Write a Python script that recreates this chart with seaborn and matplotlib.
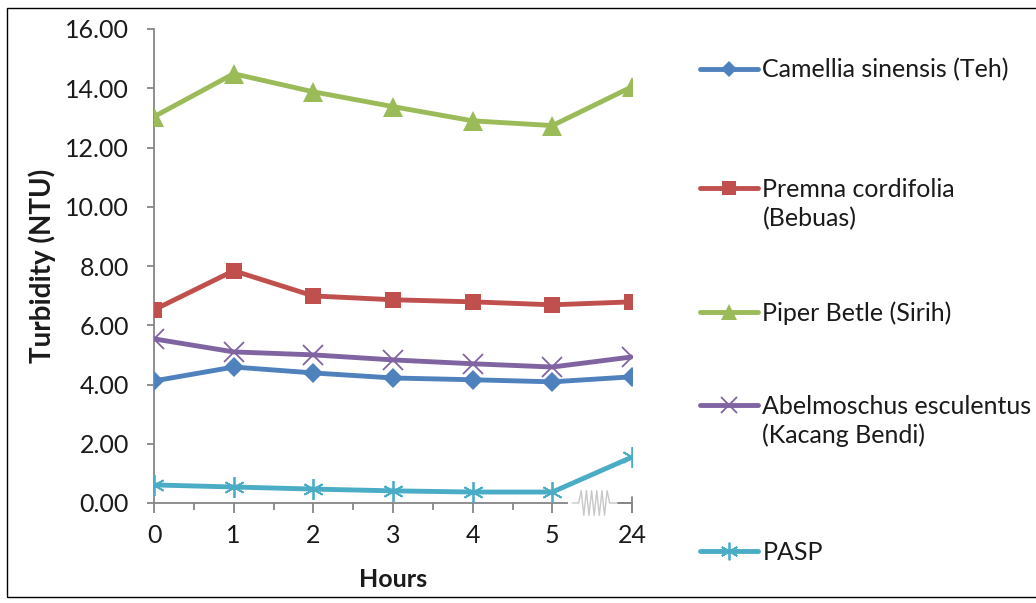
import numpy as np
import matplotlib
matplotlib.use("Agg")
import matplotlib.pyplot as plt
import matplotlib.transforms as mtransforms
import seaborn as sns
from matplotlib.lines import Line2D
from matplotlib.patches import Rectangle

# ---------------- data ----------------
hours = ["0", "1", "2", "3", "4", "5", "24"]
camellia = [4.12, 4.59, 4.39, 4.22, 4.16, 4.09, 4.26]
premna = [6.52, 7.84, 6.99, 6.86, 6.79, 6.69, 6.79]
piper = [13.04, 14.49, 13.88, 13.38, 12.90, 12.74, 14.05]
abelmoschus = [5.54, 5.10, 5.00, 4.83, 4.70, 4.59, 4.93]
pasp = [0.61, 0.54, 0.47, 0.41, 0.37, 0.37, 1.55]
series_names = ["Camellia sinensis (Teh)", "Premna cordifolia\n(Bebuas)",
                "Piper Betle (Sirih)", "Abelmoschus esculentus\n(Kacang Bendi)", "PASP"]
yticks = [0, 2, 4, 6, 8, 10, 12, 14, 16]

# ---------------- style ----------------
sns.set_theme(style="white")
plt.rcParams["font.family"] = ["Lato", "DejaVu Sans"]

colors = ["#4F81BD", "#C0504D", "#9BBB59", "#8064A2", "#4BACC6"]
markers = ["D", "s", "^", "x", (6, 2, 0)]
msizes = [10, 12, 14, 14, 15]
mews = [0, 0, 0, 1.3, 1.3]
axis_gray = "#868686"
text_col = "#1a1a1a"
FS = 18

fig = plt.figure(figsize=(10.36, 6.03), dpi=100)
ax = fig.add_axes([154 / 1036, 1 - 503 / 603, 478 / 1036, 474 / 603])

positions = np.arange(len(hours))
all_series = [camellia, premna, piper, abelmoschus, pasp]
for vals, c, m, s, mw in zip(all_series, colors, markers, msizes, mews):
    sns.lineplot(x=positions, y=vals, ax=ax, color=c, marker=m, markersize=s,
                 markeredgecolor=c, markerfacecolor=c, markeredgewidth=mw,
                 linewidth=3.5, legend=False, zorder=3)

ax.set_xlim(positions[0], positions[-1])
ax.set_ylim(yticks[0], yticks[-1])
ax.set_xticks(positions, hours)
ax.set_xticks(positions[:-2] + 0.5, minor=True)
ax.set_yticks(yticks, [f"{v:.2f}" for v in yticks])

for side in ["top", "right"]:
    ax.spines[side].set_visible(False)
for side in ["left", "bottom"]:
    ax.spines[side].set_color(axis_gray)
    ax.spines[side].set_linewidth(1.3)

ax.tick_params(axis="y", which="major", direction="out", length=5, width=1.3,
               color=axis_gray, labelsize=FS, labelcolor=text_col, pad=13, left=True)
ax.tick_params(axis="x", which="major", direction="out", length=7, width=1.3,
               color=axis_gray, labelsize=FS, labelcolor=text_col, pad=8, bottom=True)
ax.tick_params(axis="x", which="minor", direction="out", length=5, width=1.3,
               color=axis_gray, bottom=True)

ax.set_ylabel("Turbidity (NTU)", fontsize=20, fontweight="bold", color=text_col)
ax.yaxis.set_label_coords(-0.205, 0.50)
ax.set_xlabel("Hours", fontsize=18, fontweight="bold", color=text_col)
ax.xaxis.set_label_coords(0.5, -0.137)

# axis break symbol between 5 and 24
blend = mtransforms.blended_transform_factory(ax.transData, ax.transAxes)
ax.add_patch(Rectangle((5.2, -0.032), 0.63, 0.064, transform=blend,
                       facecolor="white", edgecolor="none", clip_on=False, zorder=2.7))
nz = 13
zx = np.concatenate([[5.25], np.linspace(5.33, 5.72, nz), [5.82]])
zy = np.concatenate([[0], np.where(np.arange(nz) % 2 == 0, -0.026, 0.026), [0]])
zy[1] = 0
zy[-2] = 0
ax.plot(zx, zy, transform=blend, color="#C8C8C8", lw=1.0, clip_on=False, zorder=2.8)
ax.plot([5.82, 6.0], [0, 0], transform=blend, color=axis_gray, lw=1.3,
        clip_on=False, zorder=2.8)
ax.plot([6.0, 6.0], [-0.018, 0.012], transform=blend, color=axis_gray, lw=1.3,
        clip_on=False, zorder=2.8)

# legend (one block per series, handle on first text line)
handle_y = [68, 188, 311, 405, 551]
for name, c, m, s, mw, hy in zip(series_names, colors, markers, msizes, mews, handle_y):
    lines = name.split("\n")
    handles = [Line2D([], [], color=c, marker=m, markersize=s * 0.85, lw=3.5,
                      markeredgecolor=c, markerfacecolor=c, markeredgewidth=mw)]
    handles += [Line2D([], [], linestyle="none")] * (len(lines) - 1)
    fig.legend(handles, lines, loc="upper left",
               bbox_to_anchor=(700 / 1036, 1 - (hy - 10) / 603),
               bbox_transform=fig.transFigure, frameon=False, fontsize=FS,
               handlelength=2.3, handletextpad=0.2, labelspacing=0.22,
               borderpad=0, borderaxespad=0, labelcolor=text_col)

# outer frame
fig.add_artist(Rectangle((7 / 1036, 6 / 603), 1.2, (597 - 8) / 603,
                         transform=fig.transFigure, fill=False,
                         edgecolor="black", lw=1.0))

fig.savefig("out.png", dpi=100)
